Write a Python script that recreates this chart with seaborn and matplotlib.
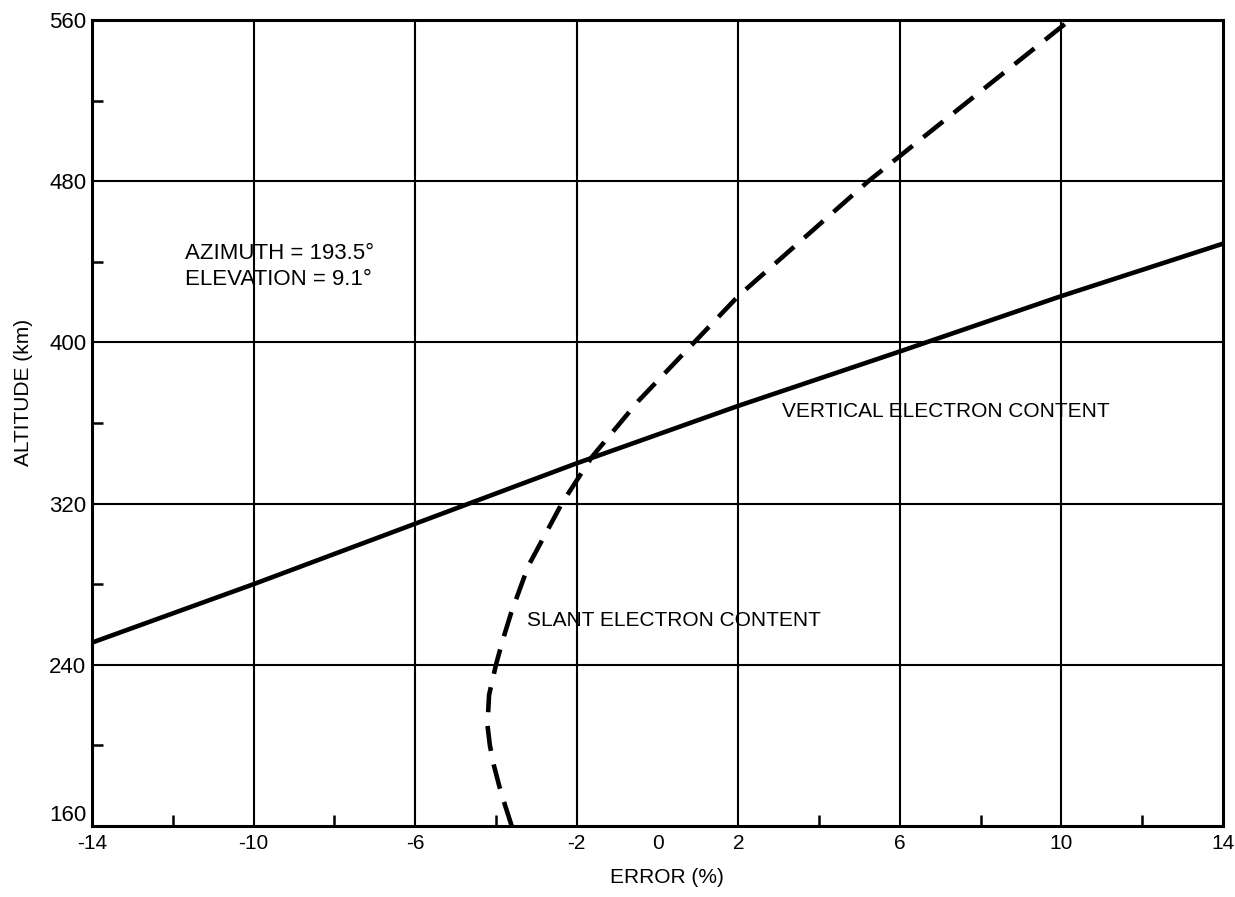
import matplotlib
matplotlib.use("Agg")
import matplotlib.pyplot as plt
import seaborn as sns
import pandas as pd

# Error (%) versus altitude (km) for vertical and slant electron content
vertical_error = [-14.0, -10.0, -6.0, -2.0, 2.0, 6.0, 10.0, 14.0]
vertical_alt = [251, 280, 310, 340, 368.5, 395.5, 423, 449]

slant_error = [-3.61, -3.77, -3.92, -4.05, -4.15, -4.21, -4.17, -4.0,
               -3.82, -3.62, -3.2, -2.37, -1.63, -0.47, 1.05, 2.0,
               5.22, 6.0, 8.15, 10.21]
slant_alt = [160, 170, 180, 190, 200, 210, 225, 240,
             253, 266, 289, 320, 343, 371, 403, 423,
             480, 492.5, 527, 560]

x_ticks = [-14, -10, -6, -2, 0, 2, 6, 10, 14]
x_grid = [-10, -6, -2, 2, 6, 10]
x_minor = [-12, -8, -4, 0, 4, 8, 12]
y_ticks = [160, 240, 320, 400, 480, 560]
y_grid = [240, 320, 400, 480]
y_minor = [200, 280, 360, 440, 520]

sns.set_theme(style="white")
plt.rcParams["font.family"] = ["Liberation Sans", "DejaVu Sans"]
plt.rcParams["text.color"] = "black"
plt.rcParams["axes.labelcolor"] = "black"

fig = plt.figure(figsize=(12.35, 8.97), dpi=100)
ax = fig.add_axes([0.0745, 0.0792, 0.9158, 0.8985])

for gx in x_grid:
    ax.axvline(gx, color="black", lw=1.5, zorder=1)
for gy in y_grid:
    ax.axhline(gy, color="black", lw=1.5, zorder=1)

vert = pd.DataFrame({"error": vertical_error, "alt": vertical_alt})
slant = pd.DataFrame({"error": slant_error, "alt": slant_alt})

sns.lineplot(data=vert, x="error", y="alt", sort=False, estimator=None,
             color="black", lw=3.3, ax=ax, zorder=3)
sns.lineplot(data=slant, x="error", y="alt", sort=False, estimator=None,
             color="black", lw=3.3, ax=ax, zorder=3)
ax.lines[-1].set_linestyle((0, (5.5, 3.0)))

ax.set_xlim(-14, 14)
ax.set_ylim(160, 560)
ax.set_xticks(x_ticks)
ax.set_xticklabels([str(v) for v in x_ticks], fontsize=15)
ax.set_yticks(y_ticks)
ax.set_yticklabels([str(v) for v in y_ticks], fontsize=16)
ax.set_xticks(x_minor, minor=True)
ax.set_yticks(y_minor, minor=True)
ax.tick_params(axis="x", which="major", length=0, pad=6, colors="black")
ax.tick_params(axis="y", which="major", length=0, pad=4, colors="black")
ax.tick_params(axis="both", which="minor", direction="in", length=8,
               width=1.8, color="black", bottom=True, left=True)
# the lowest altitude label sits just above the corner
ax.get_yticklabels()[0].set_verticalalignment("bottom")

for side in ["top", "bottom", "left", "right"]:
    ax.spines[side].set_visible(True)
    ax.spines[side].set_color("black")
    ax.spines[side].set_linewidth(2.2)

ax.set_xlabel("ERROR (%)", fontsize=15)
ax.xaxis.set_label_coords(0.508, -0.052)
ax.set_ylabel("ALTITUDE (km)", fontsize=15)
ax.yaxis.set_label_coords(-0.052, 0.538)

ax.text(-11.7, 444, "AZIMUTH = 193.5°", fontsize=16, va="center", ha="left")
ax.text(-11.7, 431, "ELEVATION = 9.1°", fontsize=16, va="center", ha="left")
ax.text(3.08, 365.5, "VERTICAL ELECTRON CONTENT", fontsize=15,
        va="center", ha="left")
ax.text(-3.23, 262, "SLANT ELECTRON CONTENT", fontsize=15,
        va="center", ha="left")

fig.savefig("out.png", dpi=100, facecolor="white")
